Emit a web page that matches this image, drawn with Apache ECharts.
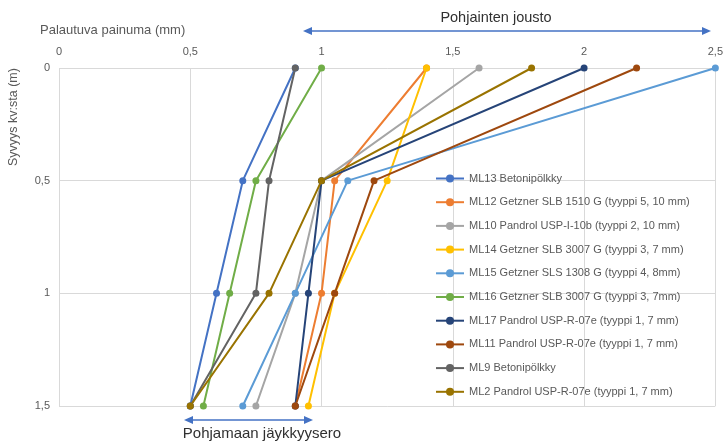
<!DOCTYPE html>
<html>
<head>
<meta charset="utf-8">
<script src="https://cdn.jsdelivr.net/npm/echarts@6/dist/echarts.min.js"></script>
<style>html,body{margin:0;padding:0;background:#fff}#c{width:726px;height:444px}</style>
</head>
<body>
<div id="c"></div>
<script>
const depths = [0, 0.5, 1, 1.5];
const xTicks = [0, 0.5, 1, 1.5, 2, 2.5];
const seriesNames = [
  'ML13 Betonipölkky',
  'ML12 Getzner SLB 1510 G (tyyppi 5, 10 mm)',
  'ML10 Pandrol USP-I-10b (tyyppi 2, 10 mm)',
  'ML14 Getzner SLB 3007 G (tyyppi 3, 7 mm)',
  'ML15 Getzner SLS 1308 G (tyyppi 4, 8mm)',
  'ML16 Getzner SLB 3007 G (tyyppi 3, 7mm)',
  'ML17 Pandrol USP-R-07e (tyyppi 1, 7 mm)',
  'ML11 Pandrol USP-R-07e (tyyppi 1, 7 mm)',
  'ML9 Betonipölkky',
  'ML2 Pandrol USP-R-07e (tyyppi 1, 7 mm)'
];
const ML13 = [0.9, 0.7, 0.6, 0.5];
const ML12 = [1.4, 1.05, 1.0, 0.9];
const ML10 = [1.6, 1.0, 0.9, 0.75];
const ML14 = [1.4, 1.25, 1.05, 0.95];
const ML15 = [2.5, 1.1, 0.9, 0.7];
const ML16 = [1.0, 0.75, 0.65, 0.55];
const ML17 = [2.0, 1.0, 0.95, 0.9];
const ML11 = [2.2, 1.2, 1.05, 0.9];
const ML9  = [0.9, 0.8, 0.75, 0.5];
const ML2  = [1.8, 1.0, 0.8, 0.5];
const seriesValues = [ML13, ML12, ML10, ML14, ML15, ML16, ML17, ML11, ML9, ML2];
const colors = ['#4472C4','#ED7D31','#A5A5A5','#FFC000','#5B9BD5','#70AD47','#264478','#9E480E','#636363','#997300'];

const FONT = 'Liberation Sans';
const fmt = v => String(v).replace('.', ',');

function arrow(x1, x2, y, color) {
  const h = 4, l = 9;
  return [
    {type:'line', shape:{x1:x1+4, y1:y, x2:x2-4, y2:y}, style:{stroke:color, lineWidth:1.5}},
    {type:'polygon', shape:{points:[[x1,y],[x1+l,y-h],[x1+l,y+h]]}, style:{fill:color}},
    {type:'polygon', shape:{points:[[x2,y],[x2-l,y-h],[x2-l,y+h]]}, style:{fill:color}}
  ];
}

const chart = echarts.init(document.getElementById('c'), null, {renderer:'canvas'});
chart.setOption({
  animation: false,
  color: colors,
  grid: {left: 59, right: 9, top: 68, bottom: 38, containLabel: false},
  xAxis: {
    type: 'value', position: 'top', min: 0, max: 2.5, interval: 0.5,
    axisLine: {show: false}, axisTick: {show: false},
    axisLabel: {color: '#595959', fontFamily: FONT, fontSize: 11, margin: 11, formatter: fmt},
    splitLine: {show: true, lineStyle: {color: '#D9D9D9', width: 1}}
  },
  yAxis: {
    type: 'value', inverse: true, min: 0, max: 1.5, interval: 0.5,
    axisLine: {show: false}, axisTick: {show: false},
    axisLabel: {color: '#595959', fontFamily: FONT, fontSize: 11, margin: 9, formatter: fmt},
    splitLine: {show: true, lineStyle: {color: '#D9D9D9', width: 1}}
  },
  legend: {
    orient: 'vertical', left: 430, top: 168, itemWidth: 28, itemHeight: 10, itemGap: 12.7,
    data: seriesNames,
    textStyle: {color: '#595959', fontFamily: FONT, fontSize: 11}
  },
  series: seriesValues.map((vals, i) => ({
    name: seriesNames[i], type: 'line',
    data: vals.map((v, j) => [v, depths[j]]),
    symbol: 'circle', symbolSize: 7,
    lineStyle: {width: 2, color: colors[i]},
    itemStyle: {color: colors[i]}
  })),
  graphic: [
    {type:'text', left: 40, top: 24, style:{text:'Palautuva painuma (mm)', fill:'#595959', font:'13px ' + FONT}},
    {type:'text', x: 7, y: 166, rotation: Math.PI/2, style:{text:'Syvyys kv:sta (m)', fill:'#595959', font:'12.5px ' + FONT}},
    {type:'text', x: 496, y: 18, style:{text:'Pohjainten jousto', fill:'#303030', font:'14.5px ' + FONT, align:'center', verticalAlign:'middle'}},
    {type:'text', x: 262, y: 434, style:{text:'Pohjamaan jäykkyysero', fill:'#303030', font:'15px ' + FONT, align:'center', verticalAlign:'middle'}},
    ...arrow(303, 711, 31, '#4472C4'),
    ...arrow(184, 313, 420, '#4472C4')
  ]
});
</script>
</body>
</html>
